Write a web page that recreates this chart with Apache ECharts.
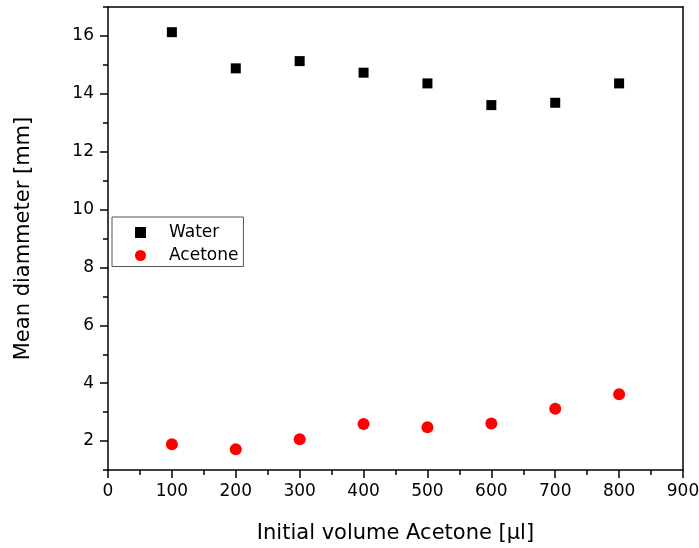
<!DOCTYPE html>
<html><head><meta charset="utf-8">
<script src="https://cdn.jsdelivr.net/npm/echarts@6/dist/echarts.min.js"></script>
<style>html,body{margin:0;padding:0;background:#fff}#c{width:699px;height:548px}</style>
</head><body><div id="c"></div>
<script>
const volumes = [100, 200, 300, 400, 500, 600, 700, 800];
const water = [16.13, 14.88, 15.13, 14.73, 14.36, 13.61, 13.69, 14.36];
const acetone = [1.89, 1.72, 2.06, 2.59, 2.48, 2.61, 3.12, 3.62];
const yMajorTicks = [2, 4, 6, 8, 10, 12, 14, 16];
const yMinorTicks = [1, 3, 5, 7, 9, 11, 13, 15, 17];

const FONT = 'DejaVu Sans';
const chart = echarts.init(document.getElementById('c'), null, {renderer: 'canvas'});
const axisLine = {show: true, lineStyle: {color: '#000', width: 1.5}};
chart.setOption({
  animation: false,
  backgroundColor: '#fff',
  textStyle: {fontFamily: FONT, color: '#000'},
  grid: {left: 108, top: 7, right: 16, bottom: 78, containLabel: false, outerBoundsMode: 'none'},
  legend: {
    orient: 'vertical', left: 112, top: 217,
    padding: [6.5, 5, 2, 23],
    borderColor: '#555', borderWidth: 1, backgroundColor: '#fff',
    itemWidth: 47, itemHeight: 11, itemGap: 5,
    textStyle: {fontFamily: FONT, fontSize: 17, color: '#000', lineHeight: 18},
    data: [
      {name: 'Water', icon: 'path://M0,0L10,0L10,10L0,10Z'},
      {name: 'Acetone', icon: 'circle'}
    ]
  },
  xAxis: [{
    type: 'value', min: 0, max: 900, interval: 100,
    name: 'Initial volume Acetone [\u03bcl]', nameLocation: 'middle', nameGap: 53,
    nameTextStyle: {fontFamily: FONT, fontSize: 21, color: '#000'},
    axisLine: axisLine,
    axisTick: {show: true, length: 8, lineStyle: {color: '#000', width: 1.5}},
    minorTick: {show: true, splitNumber: 2, length: 5, lineStyle: {color: '#000', width: 1.5}},
    axisLabel: {fontFamily: FONT, fontSize: 17, color: '#000', margin: 13},
    splitLine: {show: false}
  }, {
    type: 'value', min: 0, max: 900, position: 'top',
    axisLine: axisLine, axisTick: {show: false}, axisLabel: {show: false}, splitLine: {show: false}
  }],
  yAxis: [{
    type: 'value', min: 1, max: 17, interval: 1, position: 'left',
    name: 'Mean diammeter [mm]', nameLocation: 'middle', nameGap: 74,
    nameTextStyle: {fontFamily: FONT, fontSize: 21, color: '#000'},
    axisLine: axisLine,
    axisTick: {show: true, length: 8, customValues: yMajorTicks, lineStyle: {color: '#000', width: 1.5}},
    axisLabel: {fontFamily: FONT, fontSize: 17, color: '#000', margin: 14, customValues: yMajorTicks},
    splitLine: {show: false}
  }, {
    type: 'value', min: 1, max: 17, interval: 1, position: 'left',
    axisLine: {show: false},
    axisTick: {show: true, length: 5, customValues: yMinorTicks, lineStyle: {color: '#000', width: 1.5}},
    axisLabel: {show: false}, splitLine: {show: false}
  }, {
    type: 'value', min: 1, max: 17, position: 'right',
    axisLine: axisLine, axisTick: {show: false}, axisLabel: {show: false}, splitLine: {show: false}
  }],
  series: [{
    name: 'Water', type: 'scatter', symbol: 'rect', symbolSize: 10,
    itemStyle: {color: '#000', opacity: 1},
    data: volumes.map((v, i) => [v, water[i]])
  }, {
    name: 'Acetone', type: 'scatter', symbol: 'circle', symbolSize: 12,
    itemStyle: {color: '#ff0000', opacity: 1},
    data: volumes.map((v, i) => [v, acetone[i]])
  }]
});
</script></body></html>
